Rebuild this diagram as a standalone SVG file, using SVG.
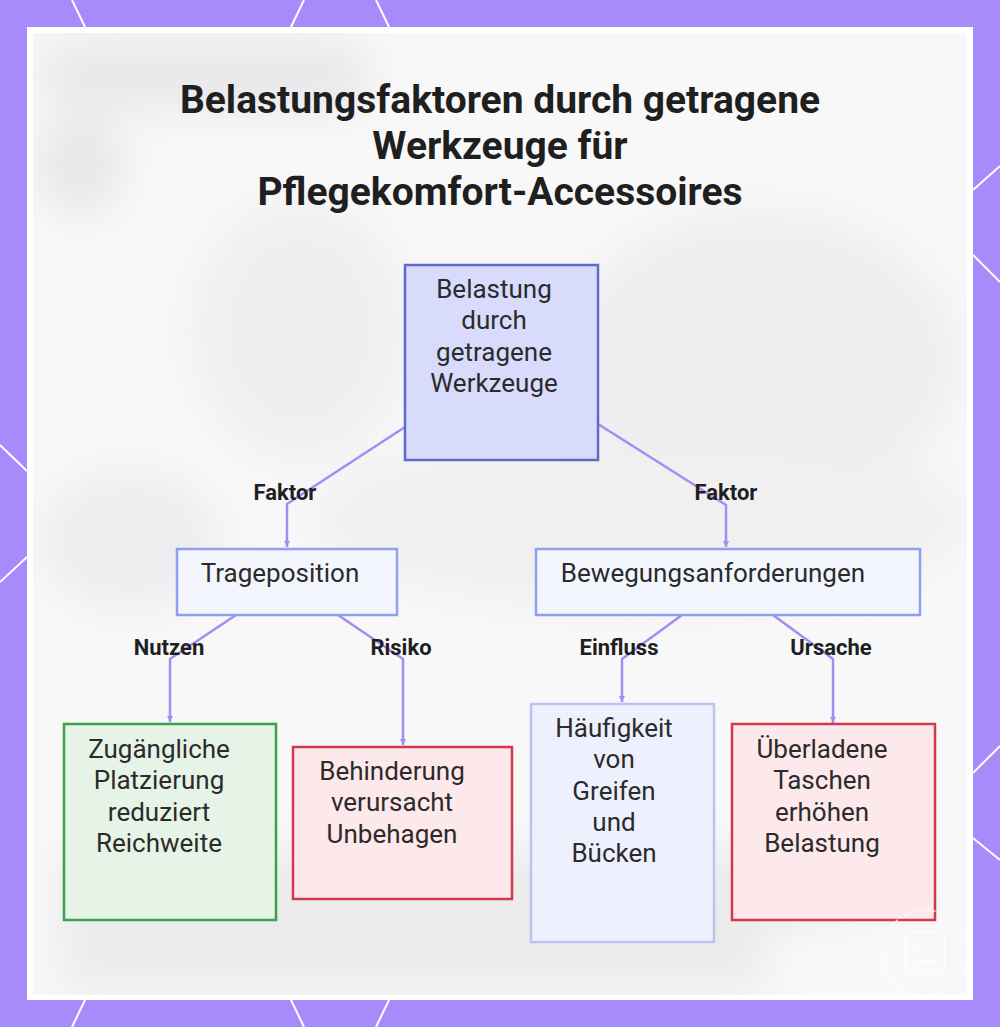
<svg xmlns="http://www.w3.org/2000/svg" width="1000" height="1027" viewBox="0 0 1000 1027">
  <defs>
    <style>
      .title { font-family: Roboto, "Liberation Sans", sans-serif; font-weight: 700; font-size: 39px; fill: #1f1f1f; text-anchor: middle; }
      .ntext { font-family: Roboto, "Liberation Sans", sans-serif; font-size: 26px; fill: #2b2b2b; text-anchor: middle; }
      .elabel { font-family: Roboto, "Liberation Sans", sans-serif; font-weight: 700; font-size: 22px; fill: #1f1f1f; text-anchor: middle; }
      .edge { fill: none; stroke: #A68AF5; stroke-width: 2.5; stroke-linejoin: round; marker-end: url(#arrow); }
      .deco { stroke: #ffffff; stroke-width: 2; fill: none; }
      .root { fill: #D8DBFB; stroke: #5C6BC6; stroke-width: 2.5; }
      .mid { fill: #F4F6FE; stroke: #8FA0EE; stroke-width: 2.5; }
      .green { fill: #E6F4E8; stroke: #3AA34A; stroke-width: 2.5; }
      .red { fill: #FDE8EC; stroke: #D03B4B; stroke-width: 2.5; }
      .blue { fill: #EEF1FD; stroke: #B9C4F3; stroke-width: 2.5; }
    </style>
    <marker id="arrow" markerWidth="8" markerHeight="8" refX="6" refY="4" orient="auto" markerUnits="userSpaceOnUse">
      <path d="M0,1 L6,4 L0,7 Z" fill="#A68AF5"/>
    </marker>
    <filter id="blur" x="-30%" y="-30%" width="160%" height="160%">
      <feGaussianBlur stdDeviation="22"/>
    </filter>
    <clipPath id="panelClip">
      <rect x="33" y="33" width="934" height="962"/>
    </clipPath>
  </defs>

  <!-- frame -->
  <rect x="0" y="0" width="1000" height="1027" fill="#A78BFA"/>
  <g class="deco">
    <line x1="72" y1="0" x2="85" y2="27"/>
    <line x1="304" y1="0" x2="291" y2="27"/>
    <line x1="376" y1="0" x2="389" y2="27"/>
    <line x1="85" y1="1000" x2="72" y2="1027"/>
    <line x1="291" y1="1000" x2="304" y2="1027"/>
    <line x1="389" y1="1000" x2="376" y2="1027"/>
    <line x1="0" y1="445" x2="27" y2="471"/>
    <line x1="27" y1="557" x2="0" y2="582"/>
    <line x1="1000" y1="166" x2="973" y2="190"/>
    <line x1="973" y1="255" x2="1000" y2="282"/>
    <line x1="1000" y1="746" x2="973" y2="773"/>
    <line x1="973" y1="838" x2="1000" y2="860"/>
  </g>
  <rect x="27" y="27" width="946" height="973" fill="#ffffff"/>

  <!-- blurred background -->
  <g clip-path="url(#panelClip)">
    <rect x="33" y="33" width="934" height="962" fill="#F8F8F9"/>
    <g filter="url(#blur)">
      <rect x="40" y="40" width="330" height="70" rx="30" fill="#E8E8EA"/>
      <rect x="40" y="120" width="80" height="90" rx="30" fill="#E6E6E8"/>
      <ellipse cx="300" cy="330" rx="110" ry="130" fill="#EFEFF0"/>
      <ellipse cx="760" cy="360" rx="200" ry="150" fill="#EEEEF0"/>
      <ellipse cx="130" cy="540" rx="90" ry="70" fill="#EDEDEF"/>
      <ellipse cx="640" cy="520" rx="330" ry="90" fill="#F0F0F1"/>
      <rect x="60" y="850" width="820" height="140" fill="#EBEBEC"/>
      <ellipse cx="850" cy="960" rx="90" ry="40" fill="#F9F9FA"/>
    </g>
  </g>

  <!-- title -->
  <g id="title">
    <text class="title" x="500" y="113">Belastungsfaktoren durch getragene</text>
    <text class="title" x="500" y="159">Werkzeuge für</text>
    <text class="title" x="500" y="205">Pflegekomfort-Accessoires</text>
  </g>

  <!-- connectors -->
  <g id="connectors">
    <path class="edge" d="M405,427 L287,504 L287,547"/>
    <path class="edge" d="M598,424 L726,505 L726,547"/>
    <path class="edge" d="M236,615 L170,659 L170,722"/>
    <path class="edge" d="M338,615 L403,659 L403,745"/>
    <path class="edge" d="M682,615 L622,659 L622,702"/>
    <path class="edge" d="M773,615 L833,659 L833,723"/>
    <text class="elabel" x="285" y="500">Faktor</text>
    <text class="elabel" x="726" y="500">Faktor</text>
    <text class="elabel" x="169" y="655">Nutzen</text>
    <text class="elabel" x="401" y="655">Risiko</text>
    <text class="elabel" x="619" y="655">Einfluss</text>
    <text class="elabel" x="831" y="655">Ursache</text>
  </g>

  <!-- nodes -->
  <g id="node-root">
    <rect class="root" x="405" y="265" width="193" height="195"/>
    <text class="ntext" x="494" y="298">Belastung</text>
    <text class="ntext" x="494" y="329">durch</text>
    <text class="ntext" x="494" y="361">getragene</text>
    <text class="ntext" x="494" y="392">Werkzeuge</text>
  </g>
  <g id="node-trageposition">
    <rect class="mid" x="177" y="549" width="220" height="66"/>
    <text class="ntext" x="280" y="582">Trageposition</text>
  </g>
  <g id="node-bewegung">
    <rect class="mid" x="536" y="549" width="384" height="66"/>
    <text class="ntext" x="713" y="582">Bewegungsanforderungen</text>
  </g>
  <g id="node-zugaenglich">
    <rect class="green" x="64" y="724" width="212" height="196"/>
    <text class="ntext" x="159" y="758">Zugängliche</text>
    <text class="ntext" x="159" y="789">Platzierung</text>
    <text class="ntext" x="159" y="821">reduziert</text>
    <text class="ntext" x="159" y="852">Reichweite</text>
  </g>
  <g id="node-behinderung">
    <rect class="red" x="293" y="747" width="219" height="152"/>
    <text class="ntext" x="392" y="780">Behinderung</text>
    <text class="ntext" x="392" y="811">verursacht</text>
    <text class="ntext" x="392" y="843">Unbehagen</text>
  </g>
  <g id="node-haeufigkeit">
    <rect class="blue" x="531" y="704" width="183" height="238"/>
    <text class="ntext" x="614" y="737">Häufigkeit</text>
    <text class="ntext" x="614" y="768">von</text>
    <text class="ntext" x="614" y="800">Greifen</text>
    <text class="ntext" x="614" y="831">und</text>
    <text class="ntext" x="614" y="862">Bücken</text>
  </g>
  <g id="node-ueberladen">
    <rect class="red" x="732" y="724" width="203" height="196"/>
    <text class="ntext" x="822" y="758">Überladene</text>
    <text class="ntext" x="822" y="789">Taschen</text>
    <text class="ntext" x="822" y="821">erhöhen</text>
    <text class="ntext" x="822" y="852">Belastung</text>
  </g>

  <!-- faint corner badge -->
  <g id="badge" opacity="0.7">
    <circle cx="925" cy="953" r="43" fill="none" stroke="#ffffff" stroke-width="1.5" stroke-dasharray="3 2"/>
    <rect x="905" y="932" width="40" height="42" rx="8" fill="none" stroke="#ffffff" stroke-width="1.5"/>
    <circle cx="917" cy="951" r="1.5" fill="#ffffff"/>
    <circle cx="925" cy="951" r="1.5" fill="#ffffff"/>
    <circle cx="933" cy="951" r="1.5" fill="#ffffff"/>
    <line x1="914" y1="961" x2="936" y2="961" stroke="#ffffff" stroke-width="1.5"/>
  </g>
</svg>
